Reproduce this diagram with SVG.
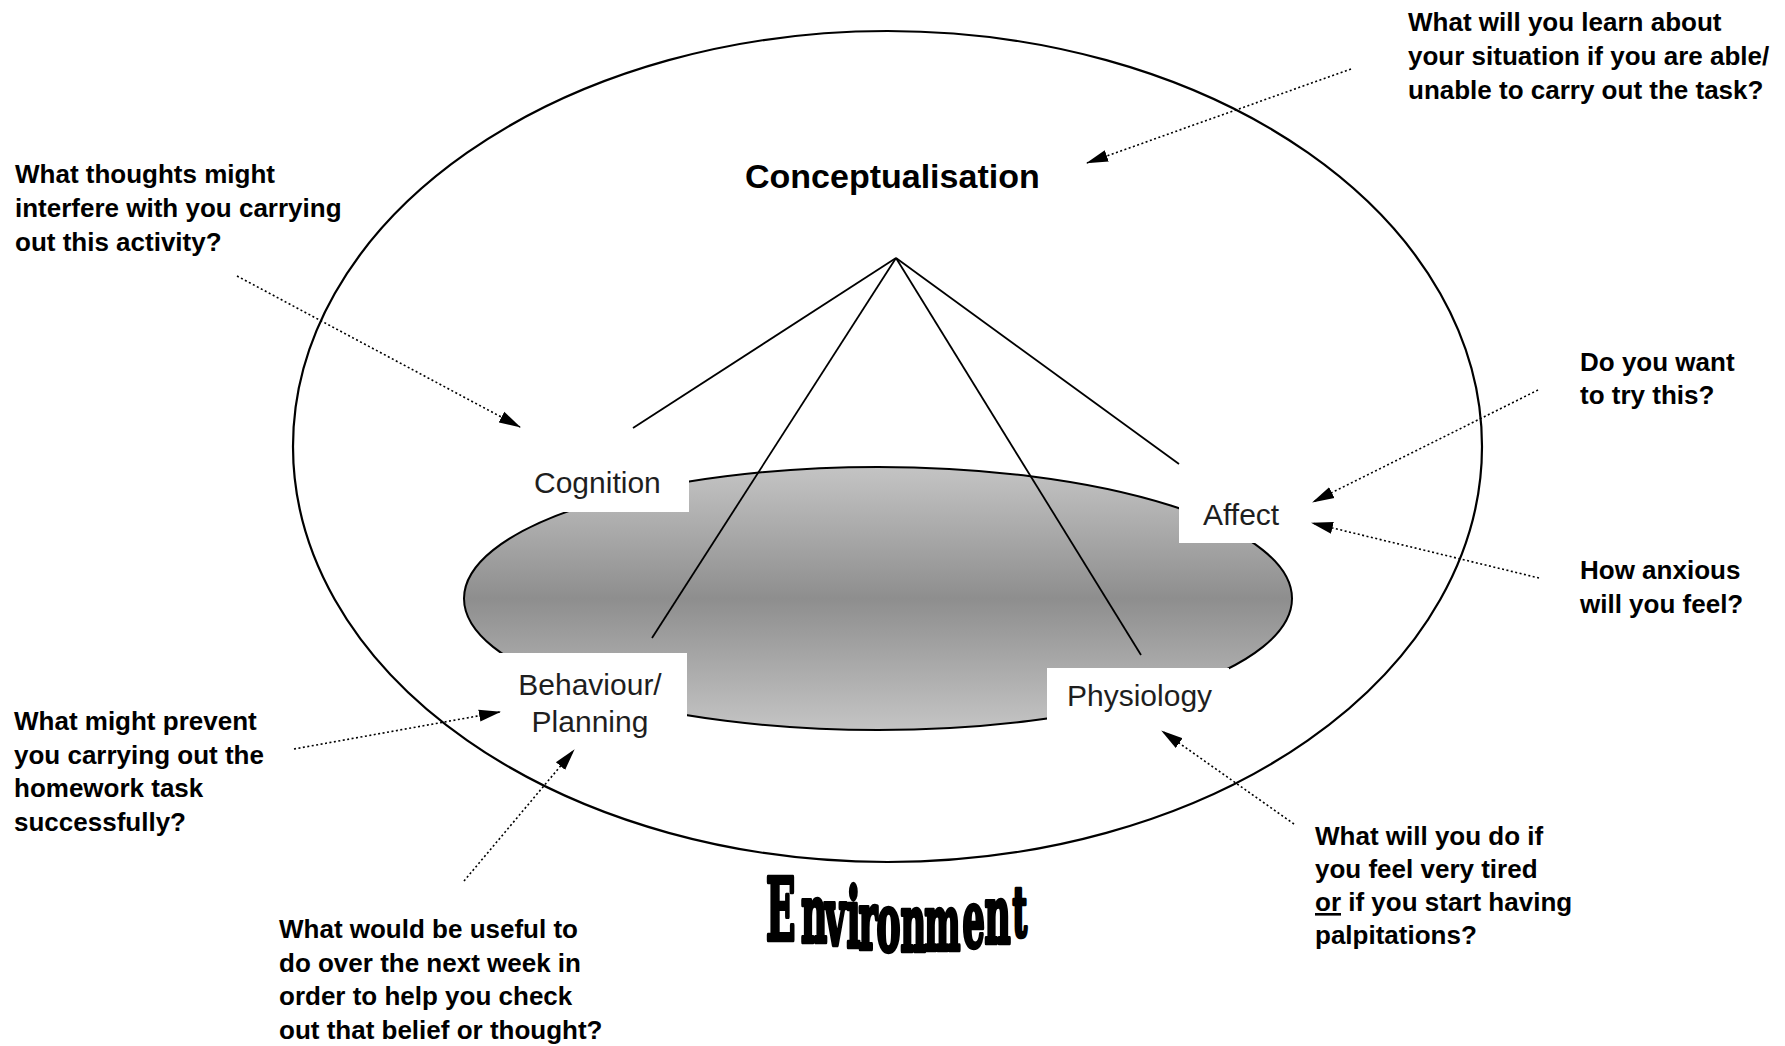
<svg xmlns="http://www.w3.org/2000/svg" width="1785" height="1046" viewBox="0 0 1785 1046">
  <defs>
    <linearGradient id="core-fill" x1="0" y1="0" x2="0" y2="1">
      <stop offset="0" stop-color="#c4c4c4"/>
      <stop offset="0.5" stop-color="#8e8e8e"/>
      <stop offset="1" stop-color="#c4c4c4"/>
    </linearGradient>
    <marker id="arrow" viewBox="0 0 22 14" refX="21" refY="7" markerWidth="22" markerHeight="14" markerUnits="userSpaceOnUse" orient="auto">
      <path d="M0,1 L22,7 L0,13 z" fill="#000"/>
    </marker>
    <style>
      .ring { fill: none; stroke: #000; stroke-width: 2.2; }
      .core { fill: url(#core-fill); stroke: #000; stroke-width: 2; }
      .box { fill: #fff; stroke: none; }
      .lbl { font-family: "Liberation Sans", Arial, sans-serif; font-size: 30px; fill: #1e1e1e; }
      .title { font-family: "Liberation Sans", Arial, sans-serif; font-size: 34px; font-weight: bold; fill: #000; }
      .q { font-family: "Liberation Sans", Arial, sans-serif; font-size: 26px; font-weight: bold; fill: #000; }
      .spoke { fill: none; stroke: #000; stroke-width: 1.8; }
      .hint { fill: none; stroke: #000; stroke-width: 1.6; stroke-dasharray: 2 2.5; marker-end: url(#arrow); }
      .env { font-family: "DejaVu Serif", "Liberation Serif", serif; font-weight: bold; fill: #000; stroke: #000; stroke-width: 4.5; stroke-linejoin: round; }
    </style>
  </defs>

  <rect width="1785" height="1046" fill="#fff"/>

  <!-- environment ring and its wavy caption -->
  <g id="environment">
    <ellipse class="ring" cx="887.5" cy="446.5" rx="594.5" ry="415.5"/>
    <text class="env" transform="scale(0.45,1)">
      <tspan x="1702" y="940" font-size="86">E</tspan><tspan x="1780" y="942" font-size="80">n</tspan><tspan x="1833" y="945" font-size="80">v</tspan><tspan x="1881" y="947" font-size="82">i</tspan><tspan x="1908" y="949" font-size="80">r</tspan><tspan x="1948" y="951" font-size="80">o</tspan><tspan x="2001" y="951" font-size="78">n</tspan><tspan x="2054" y="950" font-size="76">m</tspan><tspan x="2139" y="947" font-size="78">e</tspan><tspan x="2188" y="943" font-size="80">n</tspan><tspan x="2250" y="936" font-size="70">t</tspan>
    </text>
  </g>
  <!-- shaded core -->
  <ellipse id="core" class="core" cx="878" cy="598.5" rx="414" ry="131.5"/>

  <!-- central concept -->
  <g id="node-conceptualisation">
    <text class="title" x="745" y="188">Conceptualisation</text>
  </g>

  <!-- four areas, each on a white label patch -->
  <g id="node-cognition">
    <rect class="box" x="520" y="456" width="169" height="56"/>
    <text class="lbl" x="534" y="493">Cognition</text>
  </g>
  <g id="node-affect">
    <rect class="box" x="1179" y="486" width="112" height="57"/>
    <text class="lbl" x="1203" y="525">Affect</text>
  </g>
  <g id="node-behaviour">
    <rect class="box" x="499" y="653" width="188" height="92"/>
    <text class="lbl" text-anchor="middle"><tspan x="590" y="695">Behaviour/</tspan><tspan x="590" y="732">Planning</tspan></text>
  </g>
  <g id="node-physiology">
    <rect class="box" x="1047" y="668" width="182" height="77"/>
    <text class="lbl" x="1067" y="706">Physiology</text>
  </g>

  <!-- guiding questions -->
  <g id="note-learn">
    <text class="q"><tspan x="1408" y="31">What will you learn about</tspan><tspan x="1408" y="65">your situation if you are able/</tspan><tspan x="1408" y="99">unable to carry out the task?</tspan></text>
  </g>
  <g id="note-thoughts">
    <text class="q"><tspan x="15" y="183">What thoughts might</tspan><tspan x="15" y="217">interfere with you carrying</tspan><tspan x="15" y="251">out this activity?</tspan></text>
  </g>
  <g id="note-want">
    <text class="q"><tspan x="1580" y="371">Do you want</tspan><tspan x="1580" y="404">to try this?</tspan></text>
  </g>
  <g id="note-anxious">
    <text class="q"><tspan x="1580" y="579">How anxious</tspan><tspan x="1580" y="613">will you feel?</tspan></text>
  </g>
  <g id="note-prevent">
    <text class="q"><tspan x="14" y="730">What might prevent</tspan><tspan x="14" y="764">you carrying out the</tspan><tspan x="14" y="797">homework task</tspan><tspan x="14" y="831">successfully?</tspan></text>
  </g>
  <g id="note-useful">
    <text class="q"><tspan x="279" y="938">What would be useful to</tspan><tspan x="279" y="972">do over the next week in</tspan><tspan x="279" y="1005">order to help you check</tspan><tspan x="279" y="1039">out that belief or thought?</tspan></text>
  </g>
  <g id="note-tired">
    <text class="q"><tspan x="1315" y="845">What will you do if</tspan><tspan x="1315" y="878">you feel very tired</tspan><tspan x="1315" y="911"><tspan style="text-decoration: underline">or</tspan> if you start having</tspan><tspan x="1315" y="944">palpitations?</tspan></text>
  </g>

  <!-- connectors -->
  <g id="connectors">
    <line class="spoke" x1="896" y1="258" x2="633" y2="428"/>
    <line class="spoke" x1="896" y1="258" x2="652" y2="638"/>
    <line class="spoke" x1="896" y1="258" x2="1141" y2="655"/>
    <line class="spoke" x1="896" y1="258" x2="1179" y2="464"/>

    <line class="hint" x1="1351" y1="69" x2="1087" y2="163"/>
    <line class="hint" x1="237" y1="276" x2="520" y2="427"/>
    <line class="hint" x1="1538" y1="390" x2="1313" y2="502"/>
    <line class="hint" x1="1539" y1="578" x2="1312" y2="523"/>
    <line class="hint" x1="294" y1="749" x2="500" y2="712"/>
    <line class="hint" x1="464" y1="881" x2="574" y2="750"/>
    <line class="hint" x1="1294" y1="824" x2="1162" y2="731"/>
  </g>
</svg>
